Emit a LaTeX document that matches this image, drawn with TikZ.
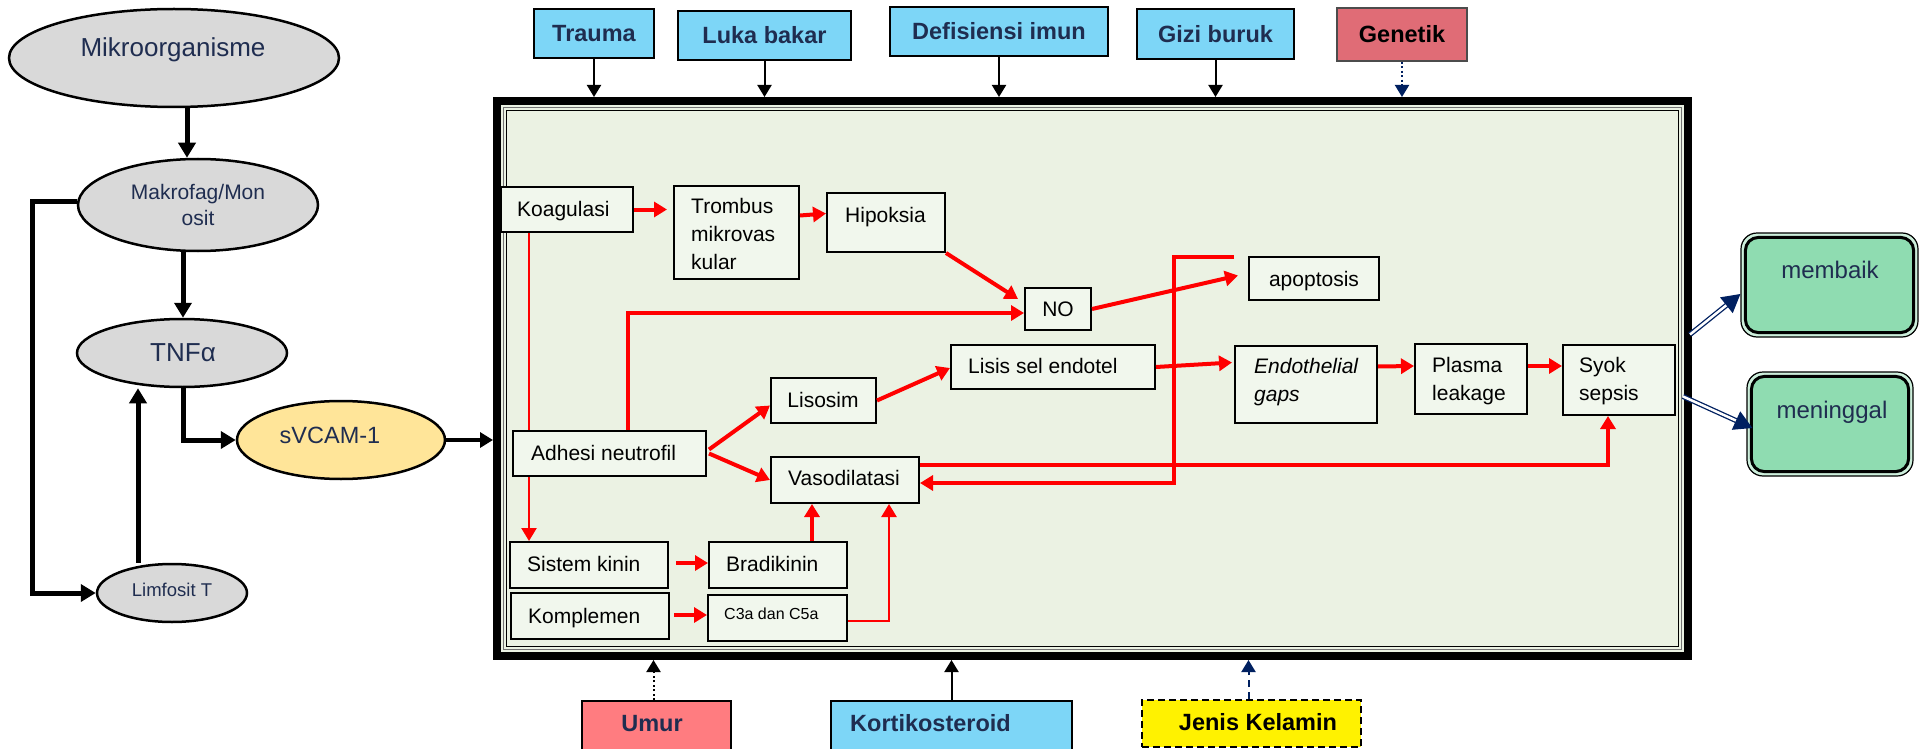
\documentclass[tikz,border=0pt]{standalone}
\usepackage{fontspec}
\setmainfont{Liberation Sans}
\usetikzlibrary{arrows.meta,fit,calc,shapes.geometric}
\definecolor{navytxt}{RGB}{31,45,80}
\definecolor{navyarr}{RGB}{0,32,96}
\definecolor{ellgray}{RGB}{217,217,217}
\definecolor{svcamyel}{RGB}{255,229,153}
\definecolor{topblue}{RGB}{125,214,247}
\definecolor{genred}{RGB}{224,108,118}
\definecolor{umurred}{RGB}{255,124,128}
\definecolor{framegreen}{RGB}{235,242,227}
\definecolor{boxgreen}{RGB}{241,247,237}
\definecolor{outgreen}{RGB}{143,220,177}
\newcommand\fsz[1]{\fontsize{#1}{#1}\selectfont}
\tikzset{
 ell/.style={ellipse, draw=black, line width=2.5pt, fill=ellgray, inner sep=0pt},
 bx/.style={draw=black, line width=2pt, fill=boxgreen, inner sep=0pt},
 topbx/.style={draw=black, line width=2pt, fill=topblue, inner sep=0pt},
 txt/.style={inner sep=0pt, text height=#1, text depth=0pt},
 txt/.default=15pt,
 mtxt/.style={inner sep=0pt, anchor=north west, align=left, font=\fontsize{21}{28}\selectfont},
 ftxt/.style={txt=17pt, font=\bfseries\fontsize{23.5}{28}\selectfont, text=navytxt},
 rar/.style={draw=red, line width=4pt, -{Triangle[length=13pt,width=15pt]}},
 blk/.style={draw=black, line width=5pt, -{Triangle[length=15pt,width=17pt]}},
 tar/.style={draw=black, line width=2pt, -{Triangle[length=12pt,width=14pt]}},
 darr/.style={draw=navyarr, double=white, double distance=2.5pt, line width=1.3pt, -{Triangle[length=18pt,width=20pt,fill=navyarr]}},
 outbx/.style={draw=black, line width=1.2pt, fill=outgreen!45, rounded corners=16pt, inner sep=0pt},
}
\begin{document}
\begin{tikzpicture}[x=1pt,y=-1pt]
\useasboundingbox (0,0) rectangle (1923,749);

% ---------- main frame ----------
\fill[framegreen] (501,105) rectangle (1684,652);
\draw[black!55, line width=1pt] (503.5,107.5) rectangle (1681.5,649.5);
\draw[black, line width=1.2pt] (506.5,110.5) rectangle (1678.5,646.5);
\node[draw=black, line width=8pt, inner sep=0pt, fit={(497,101) (1688,656)}] (frame) {};

% ---------- left ellipses ----------
\node[ell, minimum width=330pt, minimum height=98pt] (mikro) at (174,58) {};
\node[txt=18.6pt, font=\fsz{26}, text=navytxt] (tmikro) at (173,47) {Mikroorganisme};
\node[ell, minimum width=240pt, minimum height=92pt] (makro) at (198,205) {};
\node[inner sep=0pt, font=\fontsize{21}{26}\selectfont, text=navytxt, align=center, anchor=north] (tmakro) at (198,184) {Makrofag/Mon\\osit};
\node[ell, minimum width=210pt, minimum height=68pt] (tnf) at (182,353) {};
\node[txt=18.6pt, font=\fsz{26}, text=navytxt] (ttnf) at (183,352) {TNFα};
\node[ell, fill=svcamyel, minimum width=208pt, minimum height=78pt] (svcam) at (341,440) {};
\node[txt=16.8pt, font=\fsz{23.5}, text=navytxt] (tsv) at (330,435) {sVCAM-1};
\node[ell, minimum width=150pt, minimum height=58pt] (limf) at (172,593) {};
\node[txt=13.2pt, font=\fsz{18.5}, text=navytxt] (tlimf) at (172,590) {Limfosit T};

\draw[blk] ([xshift=13pt]mikro.south) -- ([xshift=-11pt]makro.north);
\draw[blk] ([xshift=-15pt]makro.south) -- ([xshift=1pt]tnf.north);
\draw[blk] ([yshift=4pt]makro.west) -- ++(-44,0) |- (limf.west);
\draw[blk] ([xshift=-34pt]limf.north) -- ([xshift=-44pt]tnf.south);
\draw[blk] ([xshift=1pt]tnf.south) |- (svcam.west);
\draw[draw=black, line width=3.5pt, -{Triangle[length=13pt,width=15pt]}] (svcam.east) -- (svcam.east -| frame.west);

% ---------- top factor boxes ----------
\node[topbx, fit={(534,9) (654,58)}] (trauma) {};
\node[ftxt] (ttrauma) at (trauma.center) {Trauma};
\node[topbx, fit={(678,11) (851,60)}] (luka) {};
\node[ftxt] (tluka) at (luka.center) {Luka bakar};
\node[topbx, fit={(890,7) (1108,56)}] (defis) {};
\node[ftxt] (tdefis) at (defis.center) {Defisiensi imun};
\node[topbx, fit={(1137,9) (1294,59)}] (gizi) {};
\node[ftxt] (tgizi) at (gizi.center) {Gizi buruk};
\node[draw=black!70, line width=1.5pt, fill=genred, inner sep=0pt, fit={(1337,8) (1467,61)}] (genetik) {};
\node[ftxt, text=black] (tgenetik) at (genetik.center) {Genetik};

\draw[tar] (trauma.south) -- (trauma.south |- frame.north);
\draw[tar] (luka.south) -- (luka.south |- frame.north);
\draw[tar] (defis.south) -- (defis.south |- frame.north);
\draw[tar] (gizi.south) -- (gizi.south |- frame.north);
\draw[tar, draw=navyarr, dash pattern=on 2pt off 2.5pt, -{Triangle[length=12pt,width=14pt,fill=navyarr]}] (genetik.south) -- (genetik.south |- frame.north);

% ---------- bottom factor boxes ----------
\node[draw=black, line width=2pt, fill=umurred, inner sep=0pt, fit={(582,701) (731,754)}] (umur) {};
\node[ftxt] (tumur) at (652,723) {Umur};
\node[topbx, fit={(831,701) (1072,754)}] (korti) {};
\node[ftxt, anchor=west] (tkorti) at (850,723) {Kortikosteroid};
\node[draw=black, line width=2pt, dash pattern=on 7pt off 4pt, fill=yellow, inner sep=0pt, fit={(1142,700) (1361,747)}] (jenis) {};
\node[ftxt, text=black] (tjenis) at (1258,722) {Jenis Kelamin};

\draw[tar, dash pattern=on 2pt off 2.5pt] ($(umur.north)+(-3,0)$) -- ($(umur.north |- frame.south)+(-3,0)$);
\draw[tar] (korti.north) -- (korti.north |- frame.south);
\draw[tar, draw=navyarr, dash pattern=on 7pt off 5pt, -{Triangle[length=12pt,width=14pt,fill=navyarr]}] ($(jenis.north)+(-3,0)$) -- ($(jenis.north |- frame.south)+(-3,0)$);

% ---------- inner boxes ----------
\node[bx, fit={(501,187) (633,232)}] (koag) {};
\node[txt, font=\fsz{21}, anchor=west] (tkoag) at (517,209) {Koagulasi};
\node[bx, fit={(674,186) (799,279)}] (tromb) {};
\node[mtxt] (ttromb) at (691,198.5) {Trombus\\mikrovas\\kular};
\node[bx, fit={(827,193) (945,252)}] (hipo) {};
\node[txt, font=\fsz{21}, anchor=west] (thipo) at (845,215) {Hipoksia};
\node[bx, fit={(1025,288) (1091,330)}] (no) {};
\node[txt, font=\fsz{21}] (tno) at (1058,309) {NO};
\node[bx, fit={(1249,257) (1379,300)}] (apop) {};
\node[txt, font=\fsz{21}] (tapop) at (1314,279) {apoptosis};
\node[bx, fit={(951,345) (1155,389)}] (lisis) {};
\node[txt, font=\fsz{21}, anchor=west] (tlisis) at (968,366) {Lisis sel endotel};
\node[bx, fit={(1235,346) (1377,423)}] (endo) {};
\node[mtxt, font=\itshape\fontsize{21}{28}\selectfont] (tendo) at (1254,358.5) {Endothelial\\gaps};
\node[bx, fit={(1415,344) (1527,414)}] (plasma) {};
\node[mtxt] (tplasma) at (1432,357.5) {Plasma\\leakage};
\node[bx, fit={(1563,345) (1675,415)}] (syok) {};
\node[mtxt] (tsyok) at (1579,357.5) {Syok\\sepsis};
\node[bx, fit={(771,378) (876,423)}] (lisos) {};
\node[txt, font=\fsz{21}] (tlisos) at (823,400) {Lisosim};

% thin line Koagulasi -> Sistem kinin (behind Adhesi)
\draw[red, line width=2.5pt] ($(koag.south west)+(29,0)$) -- ($(koag.south west)+(29,200)$);

\node[bx, fit={(513,431) (706,476)}] (adhesi) {};
\node[txt, font=\fsz{21}, anchor=west] (tadhesi) at (531,453) {Adhesi neutrofil};
\node[bx, fit={(771,457) (919,503)}] (vaso) {};
\node[txt, font=\fsz{21}, anchor=west] (tvaso) at (788,478) {Vasodilatasi};
\node[bx, fit={(510,542) (668,588)}] (sist) {};
\node[txt, font=\fsz{21}, anchor=west] (tsist) at (527,564) {Sistem kinin};
\node[bx, fit={(709,542) (847,588)}] (brad) {};
\node[txt, font=\fsz{21}, anchor=west] (tbrad) at (726,564) {Bradikinin};
\node[bx, fit={(511,593) (669,639)}] (kompl) {};
\node[txt, font=\fsz{21}, anchor=west] (tkompl) at (528,616) {Komplemen};
\node[bx, fit={(708,595) (847,641)}] (c3a) {};
\node[txt=11.5pt, font=\fsz{16}, anchor=west] (tc3a) at (724,614) {C3a dan C5a};

\draw[red, line width=2.5pt, -{Triangle[length=13pt,width=15pt]}] ($(adhesi.south west)+(17,0)$) -- ($(sist.north west)+(20,0)$);

% ---------- red connectors ----------
\draw[rar] (koag.east) -- ($(koag.east -| tromb.west)+(-6,0)$);
\draw[rar] ($(tromb.east)+(0,-17)$) -- ($(hipo.west)+(0,-9)$);
\draw[rar] (hipo.south east) -- ($(no.north west)+(-6,12)$);
\draw[rar] ($(adhesi.north west)+(116,0)$) |- ($(no.west)+(0,4)$);
\draw[rar] ($(adhesi.east)+(2,-4)$) -- ($(lisos.west)+(0,5)$);
\draw[rar] ($(adhesi.east)+(2,0)$) -- (vaso.west);
\draw[rar] (lisos.east) -- ($(lisis.west)+(0,1)$);
\draw[rar] (no.east) -- ($(apop.west)+(-10,-3)$);
\draw[rar] (lisis.east) -- ($(endo.west)+(-2,-22)$);
\draw[rar] ($(endo.east)+(0,-18)$) -- ($(plasma.west)+(0,-13)$);
\draw[rar] ($(plasma.east)+(0,-13)$) -- ($(syok.west)+(0,-14)$);
\draw[rar] ($(vaso.east)+(0,-15)$) -| ($(syok.south)+(-11,0)$);
\coordinate (ret) at (1234,257);
\draw[rar] (ret) -| ($(vaso.east)+(254,3)$) -- ($(vaso.east)+(0,3)$);
\draw[rar] ($(sist.east)+(7,-2)$) -- ($(brad.west)+(0,-2)$);
\draw[rar] ($(brad.north)+(34,0)$) -- ($(vaso.south -| brad.north)+(34,0)$);
\draw[rar] ($(kompl.east)+(4,-1)$) -- ($(c3a.west)+(0,-3)$);
\draw[draw=red, line width=2.5pt, -{Triangle[length=13pt,width=15pt]}] ($(c3a.east)+(0,3)$) -| ($(vaso.south west)+(119,0)$);

% ---------- outcomes ----------
\node[outbx, fit={(1741,233) (1918,337)}] (membaik) {};
\draw[line width=3pt, fill=outgreen, rounded corners=13pt] ($(membaik.north west)+(5,5)$) rectangle ($(membaik.south east)+(-5,-5)$);
\node[txt=17.2pt, font=\fsz{24}, text=navytxt] (tmemb) at (1830,270) {membaik};
\node[outbx, fit={(1747,372) (1913,476)}] (mening) {};
\draw[line width=3pt, fill=outgreen, rounded corners=13pt] ($(mening.north west)+(5,5)$) rectangle ($(mening.south east)+(-5,-5)$);
\node[txt=17.2pt, font=\fsz{24}, text=navytxt] (tmening) at (1832,410) {meninggal};

\draw[darr] ($(frame.east)+(-2,-44)$) -- ($(membaik.west)+(0,9)$);
\draw[darr] ($(frame.east)+(-9,18)$) -- ($(mening.west)+(6,4)$);
\end{tikzpicture}
\end{document}
